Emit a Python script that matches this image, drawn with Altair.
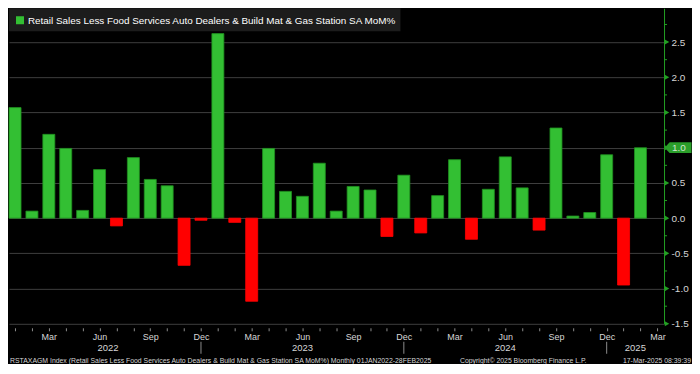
import json
import altair as alt
import pandas as pd

# ---------------- data ----------------
months = [str(p) for p in pd.period_range("2022-01", "2025-02", freq="M")]
values = [1.57, 0.10, 1.19, 0.99, 0.11, 0.69, -0.11, 0.86, 0.55, 0.46, -0.67, -0.03,
          2.62, -0.06, -1.18, 0.99, 0.38, 0.31, 0.78, 0.10, 0.45, 0.40, -0.26, 0.61,
          -0.21, 0.32, 0.83, -0.30, 0.41, 0.87, 0.43, -0.17, 1.28, 0.03, 0.08, 0.90,
          -0.95, 1.00]
month_abbr = ["Jan", "Feb", "Mar", "Apr", "May", "Jun",
              "Jul", "Aug", "Sep", "Oct", "Nov", "Dec"]
years = ["2022", "2023", "2024", "2025"]
y_major = [-1.5, -1.0, -0.5, 0.0, 0.5, 1.0, 1.5, 2.0, 2.5]
y_minor = [-1.25, -0.75, -0.25, 0.25, 0.75, 1.25, 1.75, 2.25, 2.75]
legend_text = "Retail Sales Less Food Services Auto Dealers & Build Mat & Gas Station SA MoM%"
footer_left = ("RSTAXAGM Index (Retail Sales Less Food Services Auto Dealers & Build Mat & "
               "Gas Station SA MoM%)  Monthly 01JAN2022-28FEB2025")
footer_mid = "Copyright\u00a9 2025 Bloomberg Finance L.P."
footer_right = "17-Mar-2025 08:39:39"

# ---------------- layout / style ----------------
W, H = 656, 316
X_MIN, X_MAX = -0.357, 38.393
Y_MIN, Y_MAX = -1.5, 2.98
FONT = "Liberation Sans, Arial, sans-serif"
GREEN = "#33bf33"
GREEN_EDGE = "#1f8f1f"
RED = "#ff0000"
AXIS_GREEN = "#23a023"
GRID = "#3e3e3e"
LABEL = "#d6d6d6"

df = pd.DataFrame({"month": months, "value": values, "idx": list(range(len(values)))})
last_val = values[-1]

dec_idx = [i for i, m in enumerate(months) if m.endswith("-12")]
bounds = [0] + dec_idx + [X_MAX]
year_df = pd.DataFrame({"year": years,
                        "x0": [(bounds[k] + bounds[k + 1]) / 2 for k in range(len(years))]})
sep_df = pd.DataFrame({"x0": dec_idx})

xscale = alt.Scale(domain=[X_MIN, X_MAX], nice=False, zero=False)
yscale = alt.Scale(domain=[Y_MIN, Y_MAX], nice=False, zero=False)

label_expr = ("datum.value % 3 == 2 ? " + json.dumps(month_abbr) +
              "[datum.value % 12] : ''")
xaxis = alt.Axis(title=None, values=list(range(len(values) + 1)), tickCount=200,
                 labelExpr=label_expr,
                 domain=False, ticks=True, tickColor="#8c8c8c", tickSize=3, offset=4,
                 labelColor=LABEL, labelFont=FONT, labelFontSize=9, labelPadding=2,
                 grid=False, labelOverlap=False, labelFlush=False)
yaxis = alt.Axis(title=None, orient="right", values=y_major, tickCount=200,
                 labelExpr=f"abs(datum.value - {last_val}) < 0.15 ? '' : "
                           "(datum.value < 0 ? '-' : '') + format(abs(datum.value), '.1f')",
                 domain=True, domainColor=AXIS_GREEN, domainWidth=1, ticks=False,
                 labelColor=LABEL, labelFont=FONT, labelFontSize=10, labelPadding=7,
                 grid=True, gridColor=GRID, gridWidth=1, labelOverlap=False)

one = pd.DataFrame({"a": [0]})

legend_box = alt.Chart(one).mark_rect(color="#1c1c1c").encode(
    x=alt.value(0), x2=alt.value(392), y=alt.value(0), y2=alt.value(23))
legend_sq = alt.Chart(one).mark_rect(color=GREEN).encode(
    x=alt.value(7), x2=alt.value(15), y=alt.value(8), y2=alt.value(16))
legend_txt = alt.Chart(pd.DataFrame({"t": [legend_text]})).mark_text(
    align="left", baseline="middle", font=FONT, fontSize=9.9, color="#ffffff").encode(
    x=alt.value(19), y=alt.value(12.5), text="t:N")

bars = alt.Chart(df).transform_calculate(
    x0="datum.idx - 0.355", x1="datum.idx + 0.355"
).mark_bar(strokeWidth=0.8).encode(
    x=alt.X("x0:Q", scale=xscale, axis=xaxis),
    x2="x1:Q",
    y=alt.Y("value:Q", scale=yscale, axis=yaxis),
    y2=alt.datum(0),
    color=alt.condition("datum.value >= 0", alt.value(GREEN), alt.value(RED)),
    stroke=alt.condition("datum.value >= 0", alt.value(GREEN_EDGE), alt.value(RED)),
)

tri = alt.Chart(pd.DataFrame({"value": y_major})).mark_point(
    shape="triangle-right", filled=True, size=26, color=AXIS_GREEN, opacity=1).encode(
    x=alt.value(W + 3), y=alt.Y("value:Q", scale=yscale))
minor = alt.Chart(pd.DataFrame({"value": y_minor})).mark_rule(color=AXIS_GREEN).encode(
    x=alt.value(W), x2=alt.value(W + 3), y=alt.Y("value:Q", scale=yscale))

tag_df = pd.DataFrame({"value": [last_val], "t": [f"{last_val:.1f}"]})
tag = alt.Chart(tag_df).mark_point(
    shape="M -1 0 L -0.62 -0.4 L 1 -0.4 L 1 0.4 L -0.62 0.4 Z",
    filled=True, size=729, color="#2a9e2a", opacity=1).encode(
    x=alt.value(W + 14), y=alt.Y("value:Q", scale=yscale))
tag_txt = alt.Chart(tag_df).mark_text(
    align="left", baseline="middle", font=FONT, fontSize=10, color="#cfe6cf").encode(
    x=alt.value(W + 8), y=alt.Y("value:Q", scale=yscale), text="t:N")

year_txt = alt.Chart(year_df).mark_text(
    align="center", baseline="middle", font=FONT, fontSize=9.5, color=LABEL).encode(
    x=alt.X("x0:Q", scale=xscale), y=alt.value(H + 24), text="year:N")
seps = alt.Chart(sep_df).mark_rule(color="#8c8c8c").encode(
    x=alt.X("x0:Q", scale=xscale), y=alt.value(H + 18), y2=alt.value(H + 30))

foot_l = alt.Chart(pd.DataFrame({"t": [footer_left]})).mark_text(
    align="left", baseline="alphabetic", font=FONT, fontSize=6.9, color=LABEL).encode(
    x=alt.value(1), y=alt.value(H + 39), text="t:N")
foot_m = alt.Chart(pd.DataFrame({"t": [footer_mid]})).mark_text(
    align="center", baseline="alphabetic", font=FONT, fontSize=6.9, color=LABEL).encode(
    x=alt.value(515), y=alt.value(H + 39), text="t:N")
foot_r = alt.Chart(pd.DataFrame({"t": [footer_right]})).mark_text(
    align="right", baseline="alphabetic", font=FONT, fontSize=6.9, color=LABEL).encode(
    x=alt.value(W + 27), y=alt.value(H + 39), text="t:N")

chart = alt.layer(
    bars, seps, year_txt, minor, tri, tag, tag_txt,
    legend_box, legend_sq, legend_txt, foot_l, foot_m, foot_r
).properties(
    width=W, height=H, padding=0, background="#000000"
).configure_view(stroke=None)

chart.save("out.html", embed_options={"renderer": "svg", "actions": False})
